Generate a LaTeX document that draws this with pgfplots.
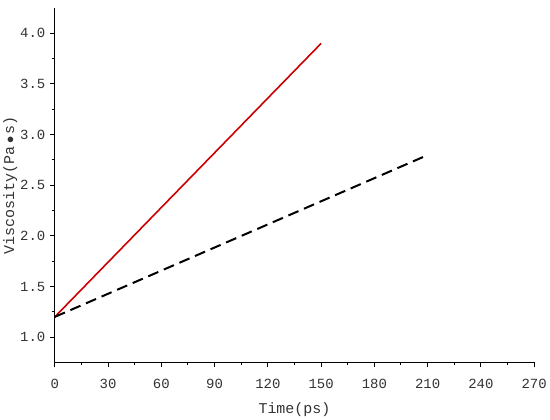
\documentclass[border=0pt]{standalone}
\usepackage{fontspec}
\setmainfont{Liberation Mono}
\usepackage{pgfplots}
\pgfplotsset{compat=1.18}
\definecolor{myred}{RGB}{204,0,0}
\begin{document}
\begin{tikzpicture}
\begin{axis}[
  scale only axis,
  width=480pt, height=355pt,
  xmin=0, xmax=270, ymin=0.75, ymax=4.25,
  xtick={0,30,...,270},
  ytick={1.0,1.5,...,4.0},
  minor x tick num=1, minor y tick num=1,
  axis x line*=bottom, axis y line*=left,
  axis line style={line width=1.2pt, -},
  tick style={line width=1pt, black},
  tick align=outside,
  major tick length=5pt, minor tick length=3pt,
  xticklabel style={/pgf/number format/fixed, yshift=-8pt},
  yticklabel style={/pgf/number format/fixed, /pgf/number format/fixed zerofill, /pgf/number format/precision=1, xshift=-1pt},
  /pgf/number format/assume math mode=true,
  ticklabel style={font=\fontsize{14}{16}\selectfont, color=black!80},
  label style={font=\fontsize{15}{17}\selectfont, color=black!80},
  xlabel={Time(ps)},
  ylabel={Viscosity(Pa\,$\bullet$\,s)},
  xlabel style={yshift=-7pt},
  ylabel style={yshift=-4pt},
]
\addplot[myred, line width=1.6pt] coordinates {(0,1.2) (150,3.9)};
\addplot[black, line width=2pt, dash pattern=on 11pt off 6pt] coordinates {(0,1.2) (209,2.79)};
\end{axis}
\path ([yshift=8pt]current axis.north west);
\end{tikzpicture}
\end{document}
